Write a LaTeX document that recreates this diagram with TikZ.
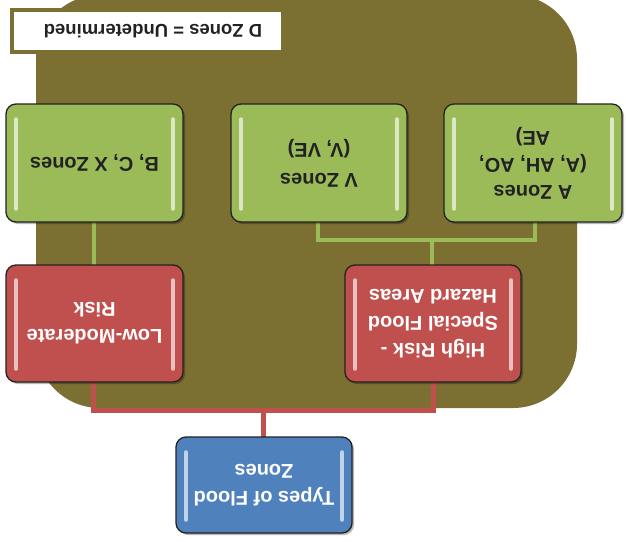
\documentclass[tikz,border=0pt]{standalone}
\usepackage{fontspec}
\setmainfont{Liberation Sans}
\usetikzlibrary{positioning}
\definecolor{olive}{HTML}{7B6F32}
\definecolor{leaf}{HTML}{9BBB59}
\definecolor{brick}{HTML}{C0504D}
\definecolor{steel}{HTML}{4F81BD}
\definecolor{ink}{HTML}{222222}
\tikzset{
  x=1pt, y=-1pt,
  zonebox/.style={rounded corners=10pt, draw=ink, line width=1.3pt},
  boxtext/.style={rotate=180, align=center, font=\bfseries\fontsize{20}{27}\selectfont},
  greenlink/.style={draw=leaf, line width=4.5pt},
  redlink/.style={draw=brick, line width=5pt},
  gloss/.style={draw=white, draw opacity=0.65, line width=3.5pt, line cap=round},
}
% glossy rounded box: #1 name, #2 colour, corners (#3,#4) and (#5,#6), #7 text colour, #8 text
\newcommand{\glossbox}[8]{%
  \fill[black, opacity=0.28, rounded corners=10pt] (#3+2,#4+2) rectangle (#5+2,#6+2);
  \path[zonebox, fill=#2] (#3,#4) rectangle (#5,#6);
  \draw[gloss] (#3+10,#4+15) -- (#3+10,#6-13);
  \draw[gloss] (#5-10,#4+15) -- (#5-10,#6-13);
  \node[boxtext, text=#7] (#1) at ({(#3+#5)/2},{(#4+#6)/2}) {#8};
  \coordinate (#1-top) at ({(#3+#5)/2},#4);
  \coordinate (#1-bot) at ({(#3+#5)/2},#6);
}
\begin{document}
\begin{tikzpicture}
\useasboundingbox (0,0) rectangle (626,541);
% olive backdrop
\fill[olive, rounded corners=64pt] (36,-5) rectangle (577,408);

% connectors
\coordinate (gl) at (94,222);
\coordinate (gm) at (318,222);
\coordinate (gr) at (535,222);
\coordinate (rl) at (93,382);
\coordinate (rr) at (433,382);
\coordinate (bt) at (263,437);
\draw[greenlink] (gl) -- (94,265);
\draw[greenlink] (gm) -- (318,240) -- (535,240) -- (gr);
\draw[greenlink] (432,240) -- (432,265);
\draw[redlink] (rl) -- (93,410) -- (433,410) -- (rr);
\draw[redlink] (263,410) -- (bt);

% legend label
\path[fill=white, draw=olive, line width=4pt] (12,10) rectangle (283,52);
\node[rotate=180, font=\bfseries\fontsize{18.5}{22}\selectfont, text=ink] (dzone) at (153,31) {D Zones = Undetermined};

% boxes
\glossbox{bcx}{leaf}{6}{104}{183}{222}{ink}{B, C, X Zones}
\glossbox{vz}{leaf}{231}{104}{407}{222}{ink}{V Zones\\[3pt](V, VE)}
\glossbox{az}{leaf}{444}{104}{622}{222}{ink}{A Zones\\(A, AH, AO,\\AE)}
\glossbox{low}{brick}{6}{265}{183}{382}{white}{Low-Moderate\\Risk}
\glossbox{high}{brick}{345}{265}{521}{382}{white}{High Risk -\\Special Flood\\Hazard Areas}
\glossbox{types}{steel}{176}{437}{352}{533}{white}{Types of Flood\\Zones}
\end{tikzpicture}
\end{document}
